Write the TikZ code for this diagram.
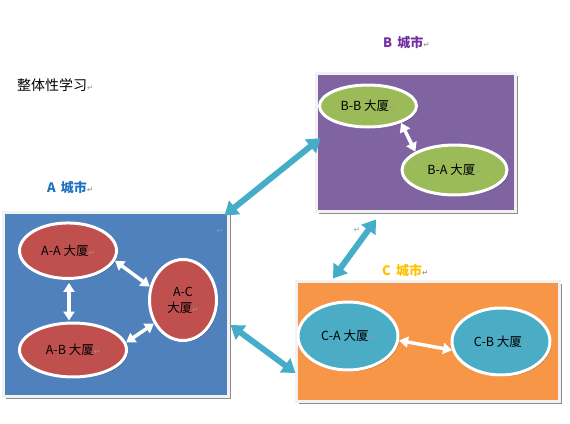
\documentclass[tikz,border=0pt]{standalone}
\usepackage{fontspec}
\setmainfont{Noto Sans CJK SC}
\newfontfamily\dejavu{DejaVu Sans}
\usetikzlibrary{arrows.meta,shapes.geometric,shadows}
\definecolor{aBlue}{HTML}{4F81BD}
\definecolor{aRed}{HTML}{C0504D}
\definecolor{bPurple}{HTML}{8064A2}
\definecolor{bGreen}{HTML}{9BBB59}
\definecolor{cOrange}{HTML}{F79646}
\definecolor{cTeal}{HTML}{4BACC6}
\definecolor{arrTeal}{HTML}{45ADC8}
\definecolor{aTitle}{HTML}{1F70C1}
\definecolor{bTitle}{HTML}{7030A0}
\definecolor{cTitle}{HTML}{FFC000}
\definecolor{boxBorder}{HTML}{F2F2F2}
\newcommand{\rmark}{{\dejavu\fontsize{7.5}{7.5}\selectfont\color{black!40}↵}}
\tikzset{
  citybox/.style={rectangle, draw=boxBorder, line width=3pt, inner sep=0pt,
    drop shadow={shadow xshift=2.5pt, shadow yshift=-2.5pt, opacity=0.45, fill=black}},
  bldg/.style={ellipse, draw=white, line width=3pt, inner sep=0pt,
    font=\fontsize{12.5}{16}\selectfont, align=center,
    drop shadow={shadow xshift=1.5pt, shadow yshift=-1.5pt, opacity=0.3, fill=black}},
  citytitle/.style={font=\bfseries\fontsize{13}{15}\selectfont, inner sep=0pt},
  inarrow/.style={draw=white, line width=3.5pt, {Triangle[length=9pt,width=11pt]}-{Triangle[length=9pt,width=11pt]}},
  bigarrow/.style={draw=arrTeal, line width=6pt, {Triangle[length=13pt,width=17pt]}-{Triangle[length=13pt,width=17pt]}},
}
\begin{document}
\begin{tikzpicture}[x=1pt,y=-1pt]
\useasboundingbox (0,0) rectangle (570,423);

% title
\node[anchor=west, inner sep=0pt, font=\fontsize{14}{15}\selectfont] (title) at (17,85) {整体性学习\rmark};

% city boxes
\node[citybox, fill=aBlue, minimum width=225pt, minimum height=184pt] (abox) at (116,304.5) {};
\node[citybox, fill=bPurple, minimum width=198.5pt, minimum height=138.5pt] (bbox) at (415.75,142.25) {};
\node[citybox, fill=cOrange, minimum width=262.5pt, minimum height=120pt] (cbox) at (427.75,341.5) {};

% city titles
\node[citytitle, color=aTitle, anchor=west] (atitle) at (47,188) {A\, 城市\rmark};
\node[citytitle, color=bTitle, anchor=west] (btitle) at (383,43) {B\, 城市\rmark};
\node[citytitle, color=cTitle, anchor=west] (ctitle) at (382,271) {C\, 城市\rmark};

% stray return marks
\node[inner sep=0pt] (rm1) at (220,231) {\rmark};
\node[inner sep=0pt] (rm2) at (357,230) {\rmark};

% buildings
\node[bldg, fill=aRed, minimum width=97pt, minimum height=55.5pt] (aa) at (68,250.7) {A-A 大厦\rmark};
\node[bldg, fill=aRed, minimum width=107pt, minimum height=54pt] (ab) at (73,350) {A-B 大厦\rmark};
\node[bldg, fill=aRed, minimum width=67pt, minimum height=81pt] (ac) at (183,300) {A-C\\大厦\rmark};
\node[bldg, fill=bGreen, minimum width=97pt, minimum height=42pt] (bb) at (368,106) {B-B 大厦\rmark};
\node[bldg, fill=bGreen, minimum width=105pt, minimum height=50pt] (ba) at (454.5,170) {B-A 大厦\rmark};
\node[bldg, fill=cTeal, minimum width=100pt, minimum height=68pt] (ca) at (348,336) {C-A 大厦\rmark};
\node[bldg, fill=cTeal, minimum width=98pt, minimum height=67pt] (cb) at (501,341.5) {C-B 大厦\rmark};

% arrows inside cities
\draw[inarrow] ([xshift=1pt,yshift=-3pt]aa.south) -- ([xshift=-4pt,yshift=1pt]ab.north);
\draw[inarrow] (aa.-12) -- (ac.158);
\draw[inarrow] (ab.8) -- (ac.219);
\draw[inarrow] (bb.-27) -- (ba.155);
\draw[inarrow] (ca.-5) -- (cb.190);

% arrows between cities
\draw[bigarrow] ([xshift=-5.5pt,yshift=-4.5pt]abox.north east) -- ([xshift=5.5pt,yshift=4pt]bbox.west);
\draw[bigarrow] ([xshift=-39.75pt,yshift=-6.5pt]bbox.south) -- ([xshift=-94.75pt,yshift=1.5pt]cbox.north);
\draw[bigarrow] ([xshift=0.5pt,yshift=-20.5pt]abox.east) -- ([xshift=0.5pt,yshift=-31.5pt]cbox.west);
\end{tikzpicture}
\end{document}
